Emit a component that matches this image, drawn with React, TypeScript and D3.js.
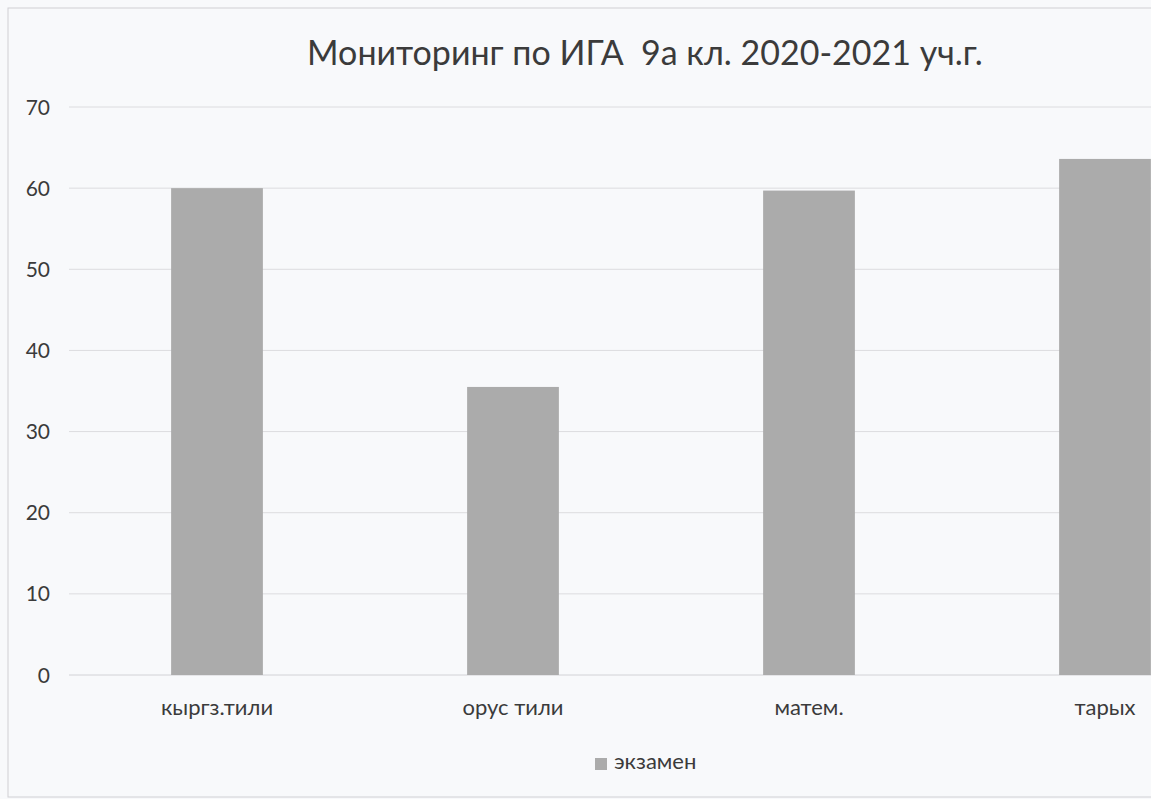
import { useEffect, useRef } from 'react';
import * as d3 from 'd3';

const categories = ['кыргз.тили', 'орус тили', 'матем.', 'тарых'];
const examValues = [60, 35.5, 59.7, 63.6];
const yTicks = [0, 10, 20, 30, 40, 50, 60, 70];
const seriesName = 'экзамен';
const title = 'Мониторинг по ИГА  9а кл. 2020-2021 уч.г.';

export default function App() {
  const svgRef = useRef<SVGSVGElement>(null);

  useEffect(() => {
    if (!svgRef.current) return;
    document.body.style.margin = '0';

    const width = 1151;
    const height = 799;
    const font = 'Lato, "Open Sans", sans-serif';
    const textColor = '#3b3b3b';
    const barColor = '#ababab';

    const svg = d3.select(svgRef.current);
    svg.selectAll('*').remove();
    svg.attr('width', width).attr('height', height);

    // page + chart frame (the chart runs off the right edge)
    svg.append('rect').attr('width', width).attr('height', height).attr('fill', '#f8f9fb');
    svg
      .append('rect')
      .attr('x', 8)
      .attr('y', 8)
      .attr('width', width + 20)
      .attr('height', 789)
      .attr('fill', 'none')
      .attr('stroke', '#d0d0d4')
      .attr('stroke-width', 1);

    // Scales
    const plotLeft = 69;
    const x = d3
      .scaleBand()
      .domain(categories)
      .range([plotLeft, plotLeft + 296 * categories.length])
      .paddingInner(0.69)
      .paddingOuter(0.345);

    const y = d3.scaleLinear().domain([0, 70]).range([675, 107]);

    // Grid lines
    svg
      .append('g')
      .selectAll('line')
      .data(yTicks)
      .enter()
      .append('line')
      .attr('x1', plotLeft)
      .attr('x2', width + 10)
      .attr('y1', (d) => y(d))
      .attr('y2', (d) => y(d))
      .attr('stroke', (d) => (d === 0 ? '#d2d2d6' : '#dcdcdf'))
      .attr('stroke-width', 1);

    // Y tick labels
    svg
      .append('g')
      .selectAll('text')
      .data(yTicks)
      .enter()
      .append('text')
      .attr('x', 50)
      .attr('y', (d) => y(d))
      .attr('dy', '0.36em')
      .attr('text-anchor', 'end')
      .attr('font-family', font)
      .attr('font-size', '21px')
      .attr('fill', textColor)
      .text((d) => d);

    // Bars
    svg
      .append('g')
      .selectAll('rect')
      .data(categories)
      .enter()
      .append('rect')
      .attr('x', (d) => x(d) || 0)
      .attr('y', (_d, i) => y(examValues[i]))
      .attr('width', x.bandwidth())
      .attr('height', (_d, i) => y(0) - y(examValues[i]))
      .attr('fill', barColor);

    // Category labels
    svg
      .append('g')
      .selectAll('text')
      .data(categories)
      .enter()
      .append('text')
      .attr('x', (d) => (x(d) || 0) + x.bandwidth() / 2)
      .attr('y', 715)
      .attr('text-anchor', 'middle')
      .attr('font-family', font)
      .attr('font-size', '22px')
      .attr('fill', textColor)
      .text((d) => d);

    // Title
    svg
      .append('text')
      .attr('x', 645)
      .attr('y', 65)
      .attr('text-anchor', 'middle')
      .attr('font-family', font)
      .attr('font-size', '34px')
      .attr('fill', textColor)
      .attr('xml:space', 'preserve')
      .style('white-space', 'pre')
      .text(title);

    // Legend
    const legend = svg.append('g').attr('transform', 'translate(595, 758)');
    legend.append('rect').attr('width', 12).attr('height', 12).attr('fill', barColor);
    legend
      .append('text')
      .attr('x', 19)
      .attr('y', 11)
      .attr('font-family', font)
      .attr('font-size', '22px')
      .attr('fill', textColor)
      .text(seriesName);
  }, []);

  return <svg ref={svgRef} style={{ display: 'block' }} />;
}
